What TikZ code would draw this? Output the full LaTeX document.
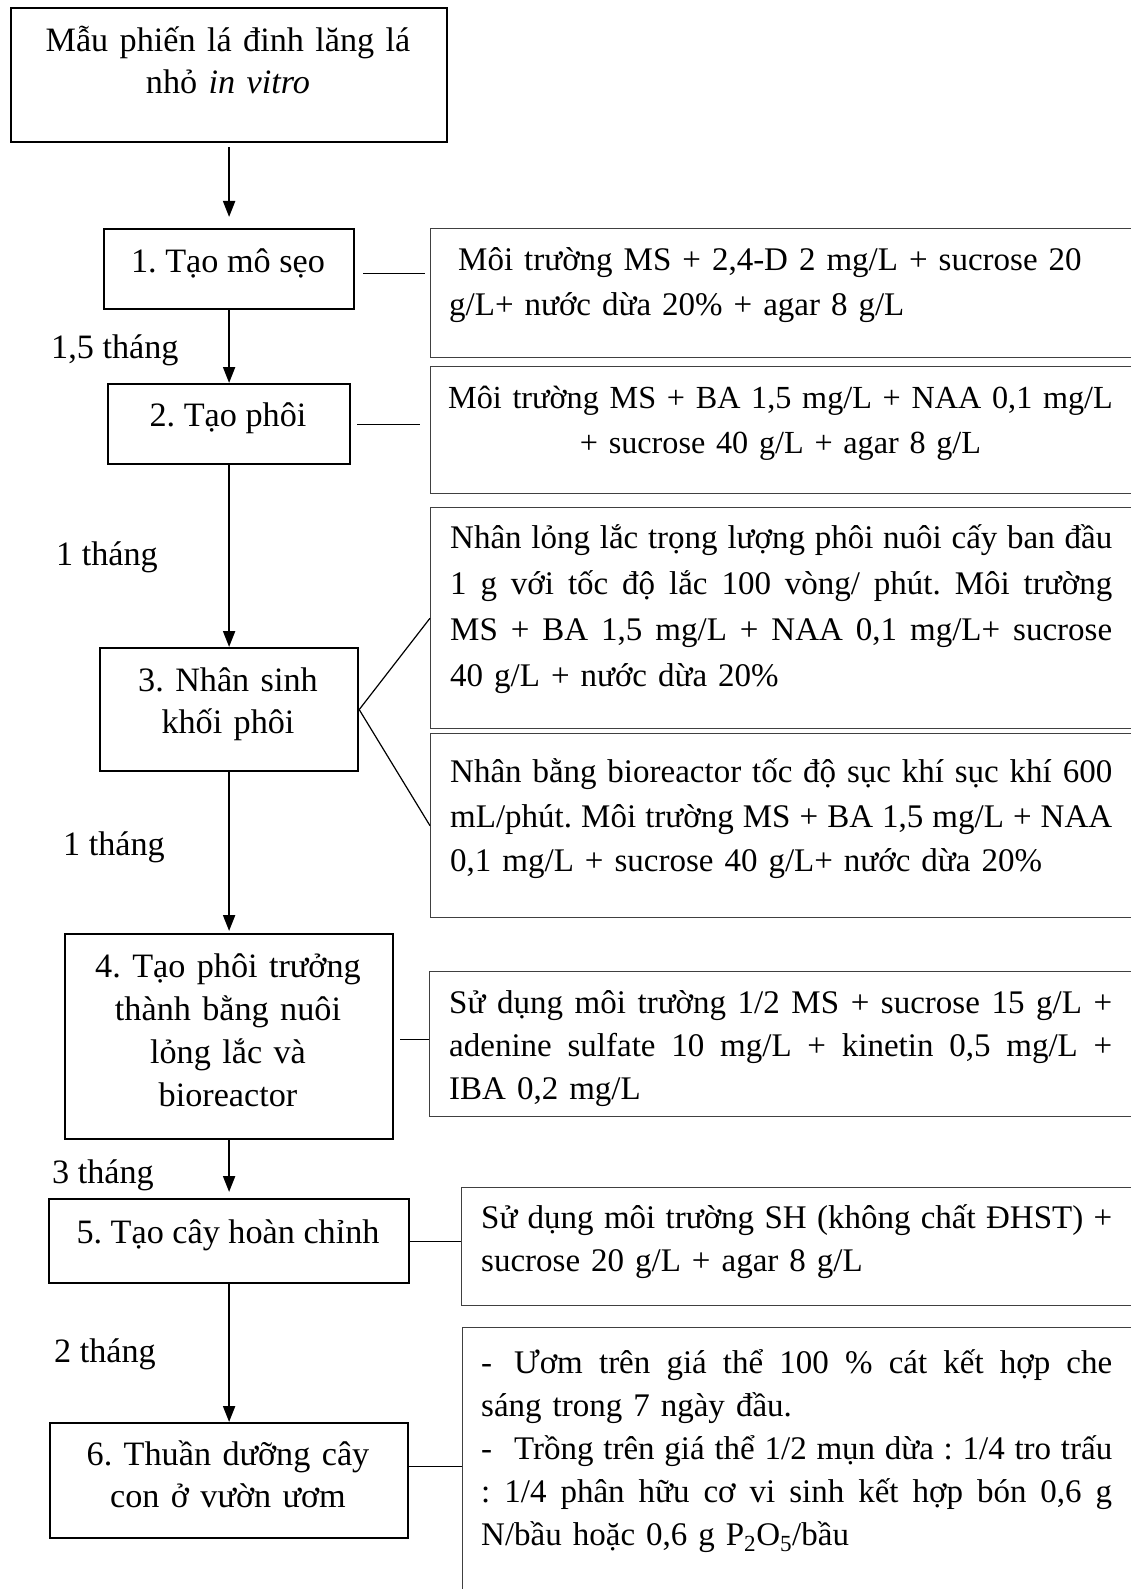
\documentclass[tikz,border=0pt]{standalone}
\usepackage{fontspec}
\setmainfont{Liberation Serif}
\usetikzlibrary{arrows.meta}
\newcommand\mainsz{\fontsize{34.2}{45}\selectfont\frenchspacing}
\newcommand\rsz{\fontsize{33}{45}\selectfont\frenchspacing}
\newcommand\rszb{\fontsize{32.2}{45}\selectfont\frenchspacing}
\newcommand\tstrut{\rule{0pt}{36pt}}
\newcommand\jl[2]{\leavevmode\hbox to #1{\spaceskip=\fontdimen2\font plus 1fil minus .3\fontdimen2\font #2}}
\tikzset{
  mbox/.style={draw, line width=2.2pt, inner sep=0pt, anchor=north west},
  rbox/.style={draw=black!75, line width=1.4pt, inner sep=0pt, anchor=north west},
  txt/.style={inner sep=0pt, anchor=north, font=\mainsz, align=center},
  rtxt/.style={inner sep=0pt, anchor=north west, font=\rsz, align=left},
  lbl/.style={inner sep=0pt, anchor=base west, font=\mainsz},
  arr/.style={line width=2pt, -{Triangle[length=16pt,width=12pt]}},
  conn/.style={line width=1.2pt},
}
\begin{document}
\begin{tikzpicture}[x=1pt,y=-1pt]
\useasboundingbox (0,0) rectangle (1130,1589);
% left column boxes
\node[mbox, minimum width=436pt, minimum height=134pt] (b0) at (10,7) {};
\node[mbox, minimum width=250pt, minimum height=80pt] (b1) at (103,228) {};
\node[mbox, minimum width=242pt, minimum height=80pt] (b2) at (107,383) {};
\node[mbox, minimum width=258pt, minimum height=123pt] (b3) at (99,647) {};
\node[mbox, minimum width=328pt, minimum height=205pt] (b4) at (64,933) {};
\node[mbox, minimum width=360pt, minimum height=84pt] (b5) at (48,1198) {};
\node[mbox, minimum width=358pt, minimum height=115pt] (b6) at (49,1422) {};
% right boxes
\node[rbox, minimum width=710pt, minimum height=129pt] (rb1) at (430,228) {};
\node[rbox, minimum width=710pt, minimum height=127pt] (rb2) at (430,366) {};
\node[rbox, minimum width=710pt, minimum height=221pt] (rb3a) at (430,507) {};
\node[rbox, minimum width=710pt, minimum height=184pt] (rb3b) at (430,733) {};
\node[rbox, minimum width=711pt, minimum height=145pt] (rb4) at (429,971) {};
\node[rbox, minimum width=679pt, minimum height=118pt] (rb5) at (461,1187) {};
\node[rbox, minimum width=678pt, minimum height=280pt] (rb6) at (462,1327) {};
% left texts
\node[txt, text width=420pt] (t0) at (228,15) {\tstrut Mẫu phiến lá đinh lăng lá\\[-3pt] nhỏ \textit{in vitro}};
\node[txt] (t1) at (228,236) {\tstrut 1. Tạo mô sẹo};
\node[txt] (t2) at (228,390) {\tstrut 2. Tạo phôi};
\node[txt, text width=250pt] (t3) at (228,655) {\tstrut 3. Nhân sinh\\[-3pt] khối phôi};
\node[txt, text width=320pt] (t4) at (228,941) {\tstrut 4. Tạo phôi trưởng\\[-2pt] thành bằng nuôi\\[-2pt] lỏng lắc và\\[-2pt] bioreactor};
\node[txt] (t5) at (228,1207) {\tstrut 5. Tạo cây hoàn chỉnh};
\node[txt, text width=350pt] (t6) at (228,1429) {\tstrut 6. Thuần dưỡng cây\\[-3pt] con ở vườn ươm};
% duration labels
\node[lbl] (l1) at (51,358) {1,5 tháng};
\node[lbl] (l2) at (56,565) {1 tháng};
\node[lbl] (l3) at (63,855) {1 tháng};
\node[lbl] (l4) at (52,1183) {3 tháng};
\node[lbl] (l5) at (54,1362) {2 tháng};
% right texts
\node[rtxt, text width=663pt] (r1) at (449,234) {\tstrut\hspace*{9pt}Môi trường MS + 2,4-D 2 mg/L + sucrose 20\\ g/L+ nước dừa 20\% + agar 8 g/L};
\node[txt, font=\rszb, text width=700pt] (r2) at (780.5,372) {\tstrut Môi trường MS + BA 1,5 mg/L + NAA 0,1 mg/L\\ + sucrose 40 g/L + agar 8 g/L};
\node[rtxt, text width=663pt] (r3a) at (450,512) {\tstrut\jl{662pt}{Nhân lỏng lắc trọng lượng phôi nuôi cấy ban đầu}\\[1pt]
\jl{662pt}{1 g với tốc độ lắc 100 vòng/ phút. Môi trường}\\[1pt]
\jl{662pt}{MS + BA 1,5 mg/L + NAA 0,1 mg/L+ sucrose}\\[1pt]
40 g/L + nước dừa 20\%};
\node[rtxt, text width=663pt] (r3b) at (450,746) {\tstrut\jl{662pt}{Nhân bằng bioreactor tốc độ sục khí sục khí 600}\\
\jl{662pt}{mL/phút. Môi trường MS + BA 1,5 mg/L + NAA}\\[-1pt]
0,1 mg/L + sucrose 40 g/L+ nước dừa 20\%};
\node[rtxt, text width=663pt] (r4) at (449,977) {\tstrut\jl{663pt}{Sử dụng môi trường 1/2 MS + sucrose 15 g/L +}\\[-2pt]
\jl{663pt}{adenine sulfate 10 mg/L + kinetin 0,5 mg/L +}\\[-2pt]
IBA 0,2 mg/L};
\node[rtxt, text width=631pt] (r5) at (481,1192) {\tstrut\jl{631pt}{Sử dụng môi trường SH (không chất ĐHST) +}\\[-2pt]
sucrose 20 g/L + agar 8 g/L};
\node[rtxt, text width=631pt] (r6) at (481,1337) {\tstrut\jl{631pt}{-\hspace{22pt}Ươm trên giá thể 100 \% cát kết hợp che}\\[-2pt]
sáng trong 7 ngày đầu.\\[-2pt]
\jl{631pt}{-\hspace{22pt}Trồng trên giá thể 1/2 mụn dừa : 1/4 tro trấu}\\[-2pt]
\jl{631pt}{: 1/4 phân hữu cơ vi sinh kết hợp bón 0,6 g}\\[-2pt]
N/bầu hoặc 0,6 g P\textsubscript{2}O\textsubscript{5}/bầu};
% arrows
\draw[arr, shorten <=4pt, shorten >=11pt] (b0.south) -- (b1.north);
\draw[arr] (b1.south) -- (b2.north);
\draw[arr] (b2.south) -- (b3.north);
\draw[arr, shorten >=2pt] (b3.south) -- (b4.north);
\draw[arr, shorten >=6pt] (b4.south) -- (b5.north);
\draw[arr] (b5.south) -- (b6.north);
% connectors
\draw[conn, shorten <=8pt, shorten >=5pt] ([yshift=-4pt]b1.east) -- ([yshift=-4pt]b1.east -| rb1.west);
\draw[conn, shorten <=6pt, shorten >=10pt] (b2.east) -- (b2.east -| rb2.west);
\draw[conn] (b3.east) -- (rb3a.west);
\draw[conn] (b3.east) -- (rb3b.west);
\draw[conn, shorten <=6pt] ([yshift=-2.5pt]b4.east) -- ([yshift=-2.5pt]b4.east -| rb4.west);
\draw[conn] (b5.east) -- (b5.east -| rb5.west);
\draw[conn] ([yshift=14.5pt]b6.east) -- ([yshift=14.5pt]b6.east -| rb6.west);
\end{tikzpicture}
\end{document}
